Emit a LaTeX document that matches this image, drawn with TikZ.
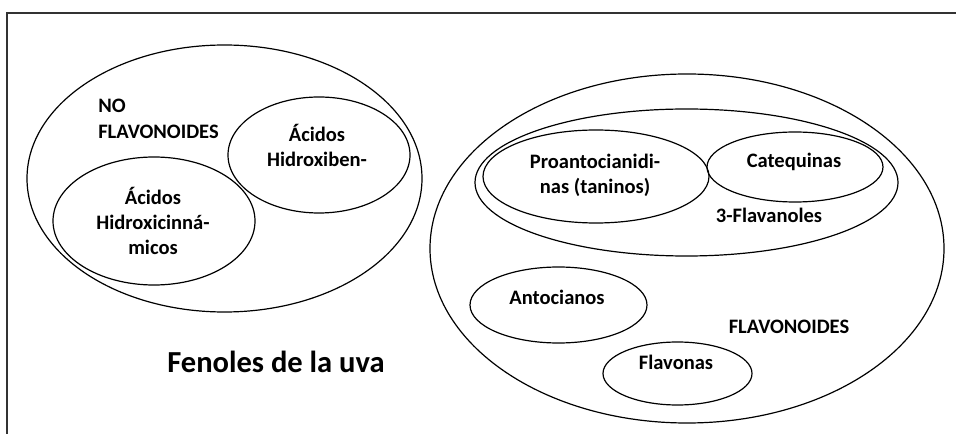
\documentclass[tikz,border=0pt]{standalone}
\usepackage{fontspec}
\setmainfont{Carlito}
\usepackage{tikz}
\usetikzlibrary{positioning}

\begin{document}
\begin{tikzpicture}[x=0.75pt,y=0.75pt]
\tikzstyle{every node}+=[inner sep=0pt, align=center, font=\bfseries\fontsize{15.4}{19}\selectfont]
\tikzstyle{set}=[black, line width=0.9pt]
\useasboundingbox (0,0) rectangle (956,-434);
\draw [black!80, line width=1.4pt] (7,-434) -- (7,-13) -- (956,-13);
% no flavonoides
\draw [set] (224.5,-178.5) ellipse [x radius=197.5, y radius=133.5];
\draw (98,-119) node [anchor=west, align=left] (noflav) {NO\\FLAVONOIDES};
\draw [set] (319,-155) ellipse [x radius=91, y radius=58];
\draw (317,-145.5) node (hidroxiben) {Ácidos\\Hidroxiben-};
\draw [set] (154,-221) ellipse [x radius=101, y radius=64];
\draw (153,-221) node (hidroxicin) {Ácidos\\Hidroxicinná-\\micos};
% flavonoides
\draw [set] (687,-248.5) ellipse [x radius=257, y radius=174.5];
\draw (789,-327) node (flav) {FLAVONOIDES};
\draw [set] (686.5,-182.5) ellipse [x radius=211.5, y radius=73.5];
\draw (769,-215) node (flavanoles) {3-Flavanoles};
\draw [set] (596,-176.5) ellipse [x radius=113, y radius=46.5];
\draw (595,-175.5) node (proanto) {Proantocianidi-\\nas (taninos)};
\draw [set] (795,-167) ellipse [x radius=88, y radius=35];
\draw (794,-162) node (catequinas) {Catequinas};
\draw [set] (558.5,-305) ellipse [x radius=88.5, y radius=38];
\draw (557,-297) node (antocianos) {Antocianos};
\draw [set] (677.5,-373.5) ellipse [x radius=74.5, y radius=31.5];
\draw (676,-362) node (flavonas) {Flavonas};
\draw (276,-362) node [font=\bfseries\fontsize{22.9}{27}\selectfont] (titulo) {Fenoles de la uva};
\end{tikzpicture}
\end{document}
